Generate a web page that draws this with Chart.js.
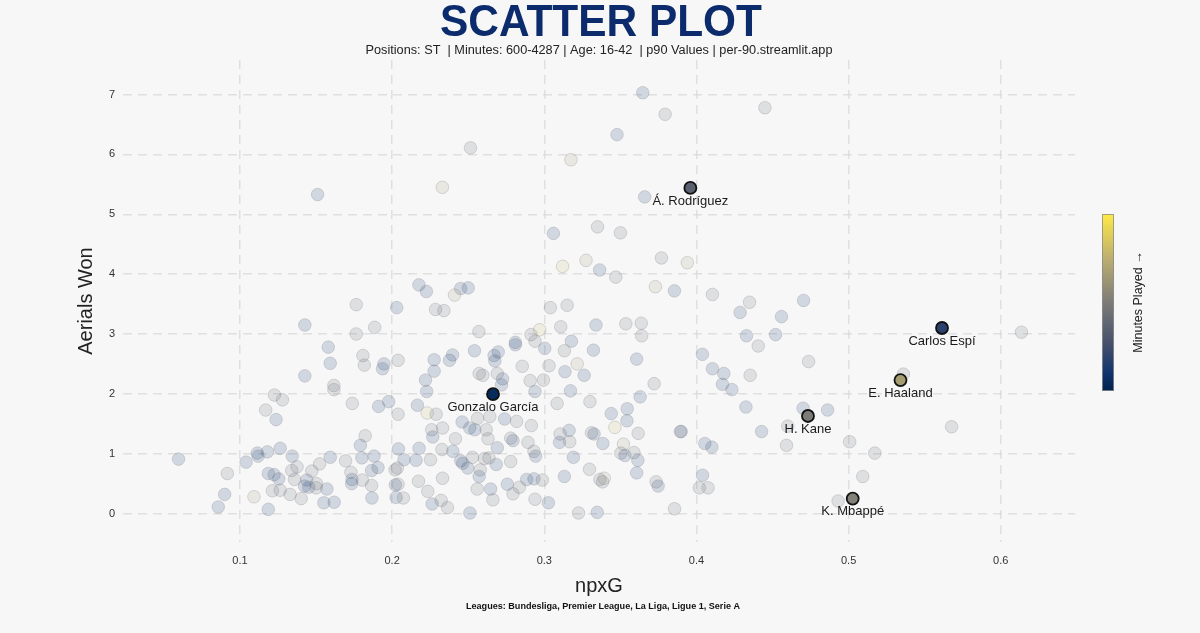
<!DOCTYPE html>
<html>
<head>
<meta charset="utf-8">
<script src="https://cdn.jsdelivr.net/npm/chart.js@4.4.1/dist/chart.umd.min.js"></script>
<style>
  html,body{margin:0;padding:0;background:#f7f7f7;}
  #wrap{width:1200px;height:633px;}
</style>
</head>
<body>
<div id="wrap"><canvas id="c" width="1200" height="633"></canvas></div>
<script>
// ---------- DATA ----------
const titleText = "SCATTER PLOT";
const subtitleText = "Positions: ST  | Minutes: 600-4287 | Age: 16-42  | p90 Values | per-90.streamlit.app";
const footerText = "Leagues: Bundesliga, Premier League, La Liga, Ligue 1, Serie A";
const xAxisTitle = "npxG";
const yAxisTitle = "Aerials Won";
const colorbarTitle = "Minutes Played \u2192";
const xTicks = [0.1, 0.2, 0.3, 0.4, 0.5, 0.6];
const yTicks = [0, 1, 2, 3, 4, 5, 6, 7];
const minutesRange = [600, 4287];

// all players (npxG, aerials won, estimated minutes)
const playerX = [
0.151,0.233,0.2176,0.2225,0.3647,0.3794,0.3478,0.2515,0.3175,0.366,
0.335,0.306,0.350,0.3274,0.312,0.3364,0.347,0.377,0.394,0.373,
0.3855,0.4105,0.245,0.250,0.241,0.445,0.4349,0.4287,0.4559,0.4704,
0.1764,0.203,0.2285,0.234,0.304,0.315,0.1426,0.1764,0.1885,0.257,
0.281,0.281,0.2913,0.297,0.2939,0.3003,0.3108,0.3178,0.3132,0.3323,
0.334,0.158,0.1593,0.1808,0.1817,0.1946,0.1937,0.2039,0.2276,0.2276,
0.2377,0.2397,0.2541,0.267,0.2697,0.2675,0.2855,0.3031,0.3216,0.1426,
0.2572,0.2596,0.2691,0.2726,0.2719,0.2907,0.2994,0.3136,0.3262,0.2219,
0.2227,0.1617,0.1617,0.1226,0.1279,0.1169,0.1237,0.1738,0.1911,0.1977,
0.2039,0.2166,0.223,0.2289,0.2642,0.2739,0.2818,0.2915,0.2939,0.3084,
0.3172,0.330,0.246,0.251,0.2543,0.2561,0.2618,0.226,0.2331,0.2267,
0.2416,0.263,0.2691,0.2779,0.2794,0.2893,0.2932,0.2943,0.3104,0.310,
0.3163,0.3167,0.3191,0.3297,0.3310,0.3327,0.3132,0.3225,0.3027,0.2939,
0.2987,0.2884,0.2836,0.2794,0.2757,0.2779,0.2684,0.2607,0.2636,0.2579,
0.2572,0.2647,0.2662,0.2559,0.2511,0.2528,0.2497,0.2451,0.2464,0.2399,
0.2327,0.2331,0.2252,0.2177,0.2157,0.2173,0.2234,0.2263,0.2322,0.2364,
0.2041,0.2078,0.2019,0.2034,0.2021,0.2039,0.2026,0.2074,0.1907,0.1881,
0.1865,0.1865,0.1867,0.1801,0.1791,0.1823,0.1804,0.1729,0.1736,0.1734,
0.1694,0.1593,0.1571,0.1551,0.1619,0.1503,0.1523,0.1472,0.1439,0.1424,
0.1452,0.1501,0.1402,0.1358,0.1375,0.1343,0.1340,0.1329,0.1264,0.118,
0.1114,0.1119,0.104,0.1186,0.1224,0.1255,0.1213,0.1264,0.1092,0.1186,
0.0917,0.0899,0.0857,0.0596,0.2932,0.3365,0.3348,0.3536,0.3637,0.364,
0.3607,0.4039,0.4105,0.418,0.4171,0.4233,0.4353,0.3722,0.363,0.4325,
0.4701,0.46,0.4428,0.4592,0.344,0.3545,0.3543,0.3464,0.3617,0.3385,
0.352,0.3503,0.353,0.3589,0.3615,0.3607,0.3894,0.3900,0.4055,0.4101,
0.404,0.4019,0.4076,0.3735,0.3748,0.3394,0.3383,0.3856,0.4329,0.4406,
0.452,0.4737,0.6136,0.536,0.4862,0.5677,0.5007,0.5172,0.5093,0.4931
];
const playerY = [
5.33,5.45,3.82,3.71,7.03,6.67,6.33,6.11,5.91,5.29,
4.79,4.68,4.69,4.23,4.13,4.07,3.95,4.27,4.19,3.79,
3.72,3.66,3.76,3.77,3.65,6.78,3.53,3.36,3.29,3.56,
3.49,3.44,3.41,3.39,3.44,3.48,3.15,3.00,3.11,3.04,
2.86,2.82,2.99,3.07,2.88,2.76,3.12,2.88,2.72,2.73,
3.15,2.78,2.51,2.64,2.48,2.50,2.42,2.56,2.57,2.38,
2.56,2.65,2.72,2.64,2.70,2.55,2.46,2.47,2.50,2.30,
2.34,2.31,2.34,2.25,2.15,2.22,2.23,2.37,2.31,2.23,
2.04,2.14,2.07,1.98,1.90,1.73,1.57,1.84,1.79,1.87,
1.66,1.81,1.68,1.66,1.62,1.58,1.54,1.47,2.04,1.84,
2.05,1.87,1.53,1.43,1.40,1.59,1.40,1.40,1.43,1.28,
1.25,1.25,1.10,1.26,1.22,1.19,1.04,0.96,1.33,1.19,
1.39,1.20,0.94,0.74,1.35,1.33,0.62,0.01,0.18,0.24,
0.56,0.57,0.44,0.33,0.49,0.87,0.82,0.92,0.93,0.73,
0.62,0.41,0.23,0.41,0.01,0.94,0.76,0.88,0.84,1.04,
1.07,0.59,0.90,1.09,0.89,0.54,0.37,0.16,0.22,0.10,
1.08,0.90,0.73,0.76,0.48,0.49,0.27,0.26,0.77,0.96,
0.72,0.47,0.26,0.93,1.14,1.30,0.56,0.69,0.57,0.50,
0.88,0.94,0.41,0.18,0.19,0.50,0.83,0.71,0.56,0.46,
0.44,0.43,0.25,0.57,0.78,0.96,0.72,0.32,1.09,1.03,
1.01,0.96,0.86,0.67,0.65,0.58,0.38,0.39,0.28,0.07,
0.67,0.32,0.11,0.91,0.58,0.57,0.02,3.17,3.18,2.97,
2.58,2.66,2.42,2.34,2.16,2.07,2.31,2.17,1.95,1.78,
1.76,1.46,1.37,1.14,1.67,1.75,1.55,1.44,1.34,1.17,
1.16,1.01,0.97,1.02,0.89,0.68,1.37,1.37,1.17,1.11,
0.64,0.43,0.43,0.53,0.46,0.59,0.53,0.08,2.97,2.80,
2.99,2.54,3.03,2.33,1.73,1.45,1.20,1.01,0.62,0.21
];
const playerMinutes = [
900,2900,900,900,900,2000,900,2000,2900,900,
2000,900,2000,2900,3500,900,2000,2000,2900,2900,
900,2000,900,900,2900,2000,2000,900,900,900,
2000,900,2000,2000,2000,2000,900,2000,2000,2000,
900,900,2000,3500,2000,900,2000,900,2000,900,
900,900,900,2000,2000,900,900,2000,900,900,
900,900,900,900,900,900,2000,2000,2900,900,
2000,2000,2000,900,900,2000,2000,900,900,900,
900,2000,2000,2000,2000,2000,900,2000,900,900,
2000,900,3500,2000,2000,900,2000,2000,900,2000,
900,2000,900,900,900,2000,2000,2000,2000,900,
2000,2000,900,2000,900,2000,2000,900,2000,900,
900,2000,900,2000,2000,900,900,2000,900,2000,
2000,900,2000,2000,900,2000,900,2000,2000,2000,
900,900,2000,2000,900,2000,900,900,900,900,
2000,2000,2000,900,900,2000,2000,900,2000,2000,
900,900,2000,2000,900,2000,900,2000,900,900,
900,2000,900,900,900,2000,2000,2000,900,900,
2000,900,900,900,900,2000,2000,2000,900,900,
900,2000,2000,2000,2000,900,2000,2000,900,900,
900,900,900,900,900,900,2000,2000,2900,900,
2000,900,900,900,900,2000,900,2000,2000,2000,
900,900,900,900,900,900,2000,2000,900,900,
900,2000,900,2000,900,900,900,3500,2000,900,
2900,2000,900,2000,900,900,2000,900,900,900,
900,2000,2000,2000,900,2900,2000,2000,900,2000,
900,2000,2000,2000,900,2000,2000,2000,2000,2000
];

// highlighted players
const highlightNames = ["Gonzalo Garc\u00eda", "\u00c1. Rodr\u00edguez", "Carlos Esp\u00ed", "E. Haaland", "H. Kane", "K. Mbapp\u00e9"];
const highlightX = [0.2663, 0.396, 0.5614, 0.5341, 0.4733, 0.5027];
const highlightY = [1.995, 5.44, 3.10, 2.23, 1.63, 0.25];
const highlightMinutes = [780, 1900, 1250, 3030, 2450, 2550];

// ---------- COLOURS ----------
const cividisStops = [
  [0.00, [0, 34, 78]],
  [0.10, [16, 52, 110]],
  [0.25, [65, 77, 107]],
  [0.50, [124, 123, 120]],
  [0.75, [188, 175, 111]],
  [1.00, [255, 234, 70]]
];
function cividis(t) {
  t = Math.max(0, Math.min(1, t));
  for (let i = 1; i < cividisStops.length; i++) {
    const [t1, c1] = cividisStops[i];
    const [t0, c0] = cividisStops[i - 1];
    if (t <= t1) {
      const f = (t - t0) / (t1 - t0);
      return c0.map((v, k) => Math.round(v + (c1[k] - v) * f));
    }
  }
  return cividisStops[cividisStops.length - 1][1];
}
function minutesColor(m, a) {
  const c = cividis((m - minutesRange[0]) / (minutesRange[1] - minutesRange[0]));
  return `rgba(${c[0]},${c[1]},${c[2]},${a})`;
}

const bgPoints = playerX.map((x, i) => ({ x: x, y: playerY[i] }));
const hlPoints = highlightX.map((x, i) => ({ x: x, y: highlightY[i] }));

// ---------- LAYOUT ----------
const AREA = { left: 123, right: 1075, top: 60, bottom: 542 };

const decorPlugin = {
  id: 'decor',
  beforeDraw(chart) {
    const ctx = chart.ctx;
    ctx.save();
    ctx.fillStyle = '#f7f7f7';
    ctx.fillRect(0, 0, chart.width, chart.height);
    ctx.restore();
  },
  afterDraw(chart) {
    const ctx = chart.ctx;
    const sx = chart.scales.x, sy = chart.scales.y;
    ctx.save();
    function fitText(txt, cx, base, font, color, targetW) {
      ctx.font = font;
      ctx.fillStyle = color;
      ctx.textAlign = 'center';
      ctx.textBaseline = 'alphabetic';
      const w = ctx.measureText(txt).width;
      const s = targetW ? targetW / w : 1;
      ctx.save();
      ctx.translate(cx, base);
      ctx.scale(s, 1);
      ctx.fillText(txt, 0, 0);
      ctx.restore();
    }
    fitText(titleText, 601, 36, 'bold 44px "Liberation Sans", Arial, sans-serif', '#0b2b6d', 322);
    fitText(subtitleText, 599, 54, '12.5px "Liberation Sans", Arial, sans-serif', '#222222', 467);
    fitText(footerText, 603, 609, 'bold 9px "Liberation Sans", Arial, sans-serif', '#111111', 274);
    fitText(xAxisTitle, 599, 592, '20px "Liberation Sans", Arial, sans-serif', '#222222', null);
    ctx.save();
    ctx.translate(92, 301);
    ctx.rotate(-Math.PI / 2);
    ctx.font = '20px "Liberation Sans", Arial, sans-serif';
    ctx.fillStyle = '#222222';
    ctx.textAlign = 'center';
    ctx.textBaseline = 'alphabetic';
    ctx.fillText(yAxisTitle, 0, 0);
    ctx.restore();

    ctx.font = '13px "Liberation Sans", Arial, sans-serif';
    ctx.fillStyle = '#1a1a1a';
    ctx.textAlign = 'center';
    ctx.textBaseline = 'middle';
    highlightNames.forEach((n, i) => {
      const px = sx.getPixelForValue(highlightX[i]);
      const py = sy.getPixelForValue(highlightY[i]);
      ctx.fillText(n, px, py + 13);
    });

    const cb = { x: 1102, y: 214, w: 12, h: 177 };
    const grad = ctx.createLinearGradient(0, cb.y + cb.h, 0, cb.y);
    for (let i = 0; i <= 20; i++) {
      const c = cividis(i / 20);
      grad.addColorStop(i / 20, `rgb(${c[0]},${c[1]},${c[2]})`);
    }
    ctx.fillStyle = grad;
    ctx.fillRect(cb.x, cb.y, cb.w, cb.h);
    ctx.strokeStyle = 'rgba(140,140,140,0.8)';
    ctx.lineWidth = 1;
    ctx.strokeRect(cb.x + 0.5, cb.y + 0.5, cb.w - 1, cb.h - 1);
    ctx.save();
    ctx.translate(1142, 302);
    ctx.rotate(-Math.PI / 2);
    ctx.font = '12.5px "Liberation Sans", Arial, sans-serif';
    ctx.fillStyle = '#222222';
    ctx.textAlign = 'center';
    ctx.textBaseline = 'alphabetic';
    ctx.fillText(colorbarTitle, 0, 0);
    ctx.restore();

    ctx.restore();
  }
};

new Chart(document.getElementById('c'), {
  type: 'scatter',
  data: {
    datasets: [
      {
        label: 'players',
        data: bgPoints,
        pointRadius: 6.3,
        pointHoverRadius: 6.3,
        pointBackgroundColor: playerMinutes.map(m => minutesColor(m, 0.16)),
        pointBorderColor: 'rgba(130,130,135,0.28)',
        pointBorderWidth: 1,
        order: 2
      },
      {
        label: 'highlighted',
        data: hlPoints,
        pointRadius: 6,
        pointHoverRadius: 6,
        pointBackgroundColor: highlightMinutes.map(m => minutesColor(m, 1)),
        pointBorderColor: '#111111',
        pointBorderWidth: 1.8,
        order: 1
      }
    ]
  },
  options: {
    responsive: false,
    animation: false,
    events: [],
    layout: { padding: { left: AREA.left - 50, right: 1200 - AREA.right, top: AREA.top, bottom: 0 } },
    plugins: { legend: { display: false }, tooltip: { enabled: false }, title: { display: false } },
    scales: {
      x: {
        type: 'linear',
        min: 0.0231,
        max: 0.6488,
        afterBuildTicks: (s) => { s.ticks = xTicks.map(v => ({ value: v })); },
        afterFit: (s) => { s.height = 633 - AREA.bottom; },
        ticks: {
          padding: 12,
          color: '#333333',
          font: { family: '"Liberation Sans", Arial, sans-serif', size: 11 },
          callback: (v) => String(Math.round(v * 10) / 10)
        },
        grid: { color: 'rgba(218,218,218,0.8)', lineWidth: 1.5, drawTicks: false },
        border: { display: false, dash: [9, 6] }
      },
      y: {
        type: 'linear',
        min: -0.475,
        max: 7.577,
        afterBuildTicks: (s) => { s.ticks = yTicks.map(v => ({ value: v })); },
        afterFit: (s) => { s.width = 50; },
        ticks: {
          padding: 8,
          color: '#333333',
          font: { family: '"Liberation Sans", Arial, sans-serif', size: 11 },
          callback: (v) => String(v)
        },
        grid: { color: 'rgba(218,218,218,0.8)', lineWidth: 1.5, drawTicks: false },
        border: { display: false, dash: [9, 6] }
      }
    }
  },
  plugins: [decorPlugin]
});
</script>
</body>
</html>
